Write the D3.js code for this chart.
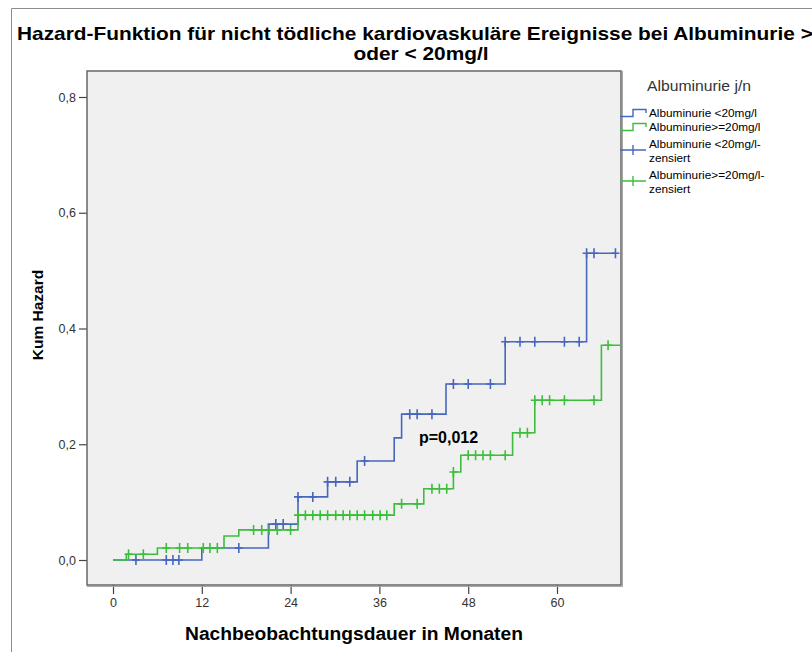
<!DOCTYPE html>
<html>
<head>
<meta charset="utf-8">
<script src="https://cdn.jsdelivr.net/npm/d3@7"></script>
<style>
  html, body { margin: 0; padding: 0; background: #fff; }
  svg { display: block; font-family: "Liberation Sans", Arial, sans-serif; }
</style>
</head>
<body>
<svg id="chart" width="812" height="652"></svg>
<script>
// Cumulative hazard steps: [month, cumulative hazard]
const stepsLow = [[0, 0], [12, 0.0207], [21, 0.062], [25, 0.109], [29, 0.135], [33, 0.171],
  [38, 0.211], [39, 0.252], [45, 0.304], [53, 0.377], [64, 0.530]];
const endLow = 68;
const censoredLow = [3.1, 7.2, 8.1, 8.9, 17, 22, 23, 25, 27, 29, 30.1, 32, 34, 40.1, 41.1, 43.1,
  46, 48, 51, 53, 55, 57, 61, 63, 64, 65, 67.9];

const stepsHigh = [[0, 0], [1.8, 0.010], [6, 0.0207], [15, 0.0415], [17, 0.052], [25, 0.0775],
  [38, 0.097], [42, 0.123], [46, 0.152], [47, 0.181], [54, 0.220], [57, 0.276], [66, 0.371]];
const endHigh = 68.65;
const censoredHigh = [2.1, 4.1, 7.2, 9, 10.1, 12.2, 13.1, 14.1, 19, 20.1, 21.1, 22.2, 24, 25, 26, 27,
  28, 29, 30.1, 31.1, 32, 33, 34, 35.1, 36.1, 37, 39, 41.1, 43.1, 44.1, 45.1, 46, 48, 49, 50, 51,
  53, 55, 56, 57, 58, 59, 61, 65, 66.9];

const xTicks = [0, 12, 24, 36, 48, 60];
const yTicks = [0, 0.2, 0.4, 0.6, 0.8];

const titleLines = ["Hazard-Funktion für nicht tödliche kardiovaskuläre Ereignisse bei Albuminurie >=", "oder < 20mg/l"];
const xTitle = "Nachbeobachtungsdauer in Monaten";
const yTitle = "Kum Hazard";
const legendTitle = "Albuminurie j/n";
const pLabel = "p=0,012";

const colLow = "#4766be";
const colHigh = "#3cbe3c";

const svg = d3.select("#chart");

// outer chart frame
svg.append("path")
  .attr("d", "M11.5,652 V8.5 H812")
  .attr("fill", "none").attr("stroke", "#8c8c8c").attr("stroke-width", 1);

// title
const title = svg.append("g").attr("font-weight", "bold").attr("font-size", 18.5)
  .attr("text-anchor", "middle").attr("fill", "#000");
title.append("text").attr("x", 421).attr("y", 40).text(titleLines[0])
  .attr("textLength", 808).attr("lengthAdjust", "spacingAndGlyphs");
title.append("text").attr("x", 421).attr("y", 60).text(titleLines[1])
  .attr("textLength", 135).attr("lengthAdjust", "spacingAndGlyphs");

// plot area
const plot = { left: 87, right: 621, top: 71, bottom: 585 };
const x = d3.scaleLinear().domain([-26 / 7.4, 508 / 7.4]).range([plot.left, plot.right]);
const y = d3.scaleLinear().domain([-25 / 578.75, 0.8 + 26 / 578.75]).range([plot.bottom, plot.top]);

svg.append("rect")
  .attr("x", plot.left).attr("y", plot.top)
  .attr("width", plot.right - plot.left).attr("height", plot.bottom - plot.top)
  .attr("fill", "#f0f0f0");

// axes
const fmt = v => d3.format(".1f")(v).replace(".", ",");
const yAxis = svg.append("g").attr("transform", `translate(${plot.left},0)`)
  .call(d3.axisLeft(y).tickValues(yTicks).tickFormat(fmt).tickSize(8).tickPadding(3));
const xAxis = svg.append("g").attr("transform", `translate(0,${plot.bottom})`)
  .call(d3.axisBottom(x).tickValues(xTicks).tickFormat(d3.format("d")).tickSize(9).tickPadding(4));
[xAxis, yAxis].forEach(a => {
  a.select(".domain").remove();
  a.selectAll(".tick line").attr("stroke", "#444").attr("stroke-width", 1.2);
  a.selectAll(".tick text").attr("fill", "#333").attr("font-size", 12.5)
    .attr("font-family", "Liberation Sans, Arial, sans-serif");
});

// plot frame
svg.append("rect")
  .attr("x", plot.left).attr("y", plot.top)
  .attr("width", plot.right - plot.left).attr("height", plot.bottom - plot.top)
  .attr("fill", "none").attr("stroke", "#666").attr("stroke-width", 1.5);
svg.append("path")
  .attr("d", `M${plot.right + 1.5},${plot.top} V${plot.bottom + 1.5} H${plot.left}`)
  .attr("fill", "none").attr("stroke", "#a8a8a8").attr("stroke-width", 1);

// axis titles
svg.append("text")
  .attr("x", 354).attr("y", 640).attr("text-anchor", "middle")
  .attr("font-weight", "bold").attr("font-size", 17.5)
  .attr("textLength", 338).attr("lengthAdjust", "spacingAndGlyphs")
  .text(xTitle);
svg.append("text")
  .attr("transform", "translate(43,315) rotate(-90)").attr("text-anchor", "middle")
  .attr("font-weight", "bold").attr("font-size", 15.5)
  .text(yTitle);

// step curves with censoring marks
const valueAt = (steps, t) => {
  let v = steps[0][1];
  for (const s of steps) if (t >= s[0]) v = s[1];
  return v;
};
const line = d3.line().x(d => x(d[0])).y(d => y(d[1])).curve(d3.curveStepAfter);

function drawGroup(steps, end, censored, color) {
  const pts = steps.concat([[end, steps[steps.length - 1][1]]]);
  svg.append("path").datum(pts)
    .attr("d", line)
    .attr("fill", "none").attr("stroke", color).attr("stroke-width", 1.6);
  svg.append("g").selectAll("path").data(censored).join("path")
    .attr("d", t => {
      const cx = x(t), cy = y(valueAt(steps, t));
      return `M${cx - 4},${cy} H${cx + 4} M${cx},${cy - 5} V${cy + 5}`;
    })
    .attr("fill", "none").attr("stroke", color).attr("stroke-width", 1.6);
}
drawGroup(stepsLow, endLow, censoredLow, colLow);
drawGroup(stepsHigh, endHigh, censoredHigh, colHigh);

// log-rank p value
svg.append("text")
  .attr("x", 419).attr("y", 443)
  .attr("font-weight", "bold").attr("font-size", 16)
  .text(pLabel);

// legend
const lg = svg.append("g");
lg.append("text").attr("x", 647).attr("y", 91).attr("font-size", 15).attr("fill", "#333")
  .attr("textLength", 104).attr("lengthAdjust", "spacingAndGlyphs")
  .text(legendTitle);
const legendItems = [
  { kind: "step", color: colLow, y: 113, lines: ["Albuminurie <20mg/l"] },
  { kind: "step", color: colHigh, y: 127, lines: ["Albuminurie>=20mg/l"] },
  { kind: "cens", color: colLow, y: 150, lines: ["Albuminurie <20mg/l-", "zensiert"] },
  { kind: "cens", color: colHigh, y: 181, lines: ["Albuminurie>=20mg/l-", "zensiert"] }
];
legendItems.forEach(it => {
  const sym = it.kind === "step"
    ? `M620,${it.y + 3.5} H633 V${it.y - 3.5} H646 V${it.y}`
    : `M620,${it.y} H646 M633,${it.y - 5} V${it.y + 5}`;
  lg.append("path").attr("d", sym).attr("fill", "none")
    .attr("stroke", it.color).attr("stroke-width", 1.4);
  const t = lg.append("text").attr("font-size", 11.8).attr("fill", "#000");
  const y0 = it.lines.length === 1 ? it.y + 3.5 : it.y - 2;
  it.lines.forEach((s, i) => {
    t.append("tspan").attr("x", 649).attr("y", y0 + i * 13.5).text(s);
  });
});
</script>
</body>
</html>
